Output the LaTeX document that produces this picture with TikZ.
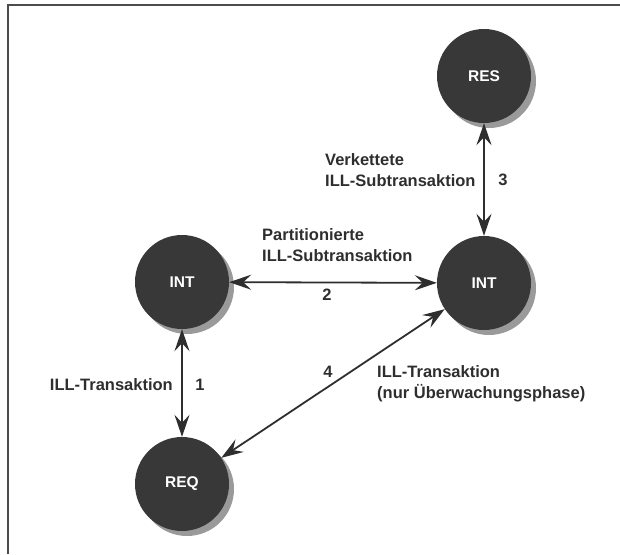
\documentclass[tikz,border=0pt]{standalone}
\usepackage{fontspec}
\setmainfont{Liberation Sans}
\usetikzlibrary{arrows.meta}
\definecolor{discfill}{HTML}{383838}
\definecolor{shadowgray}{HTML}{9A9A9A}
\definecolor{inkgray}{HTML}{2E2E2E}
\tikzset{
  disc/.style={circle, minimum size=94pt, inner sep=0pt, fill=discfill,
    text=white, font=\bfseries\fontsize{15.5}{18}\selectfont},
  discshadow/.style={fill=shadowgray},
  bigstealth/.tip={Stealth[length=22pt,width=15pt,inset=8pt]},
  link/.style={bigstealth-bigstealth, line width=1.8pt, draw=inkgray},
  lbl/.style={font=\bfseries\fontsize{16.5}{21}\selectfont, text=inkgray, inner sep=0pt, align=left},
  frame/.style={draw=black!70, line width=1.3pt}
}
\begin{document}
\begin{tikzpicture}[x=1pt,y=-1pt]
\useasboundingbox (0,0) rectangle (620,554);
\draw[frame] (8,554) -- (8,5) -- (620,5);
\fill[discshadow] (489,81) circle (47);
\fill[discshadow] (187,287) circle (47);
\fill[discshadow] (489,288) circle (47);
\fill[discshadow] (187,489) circle (47);
\node[disc] (res) at (484,76) {RES};
\node[disc] (int1) at (182,282) {INT};
\node[disc] (int2) at (484,283) {INT};
\node[disc] (req) at (182,484) {REQ};
\draw[link] (int1) -- (req);
\draw[link] (int1) -- (int2);
\draw[link] (res) -- (int2);
\draw[link] (req) -- (int2);
\node[lbl, anchor=east] (l1) at (173,385) {ILL-Transaktion};
\node[lbl] (n1) at (200,385) {1};
\node[lbl, anchor=west] (l2) at (262,245) {Partitionierte\\ILL-Subtransaktion};
\node[lbl] (n2) at (327,295) {2};
\node[lbl, anchor=west] (l3) at (325,170) {Verkettete\\ILL-Subtransaktion};
\node[lbl] (n3) at (503,180) {3};
\node[lbl] (n4) at (328,372) {4};
\node[lbl, anchor=west] (l4) at (377,384) {ILL-Transaktion\\(nur Überwachungsphase)};
\end{tikzpicture}
\end{document}
